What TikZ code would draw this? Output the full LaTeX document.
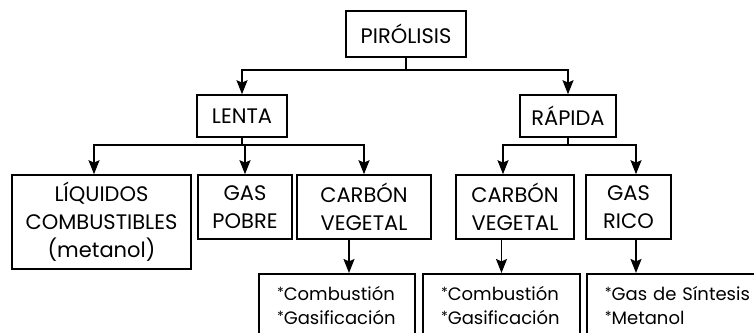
\documentclass[tikz,border=0pt]{standalone}
\usepackage{fontspec}
\setmainfont{Poppins}
\usepackage{tikz}
\usetikzlibrary{positioning,arrows.meta,calc}
\tikzset{
  flow/.style={-{Stealth[length=7pt,width=5.5pt,inset=1.2pt]}, line width=0.8pt, draw=black},
  every node/.style={anchor=center}
}
\newcommand{\itm}{\raisebox{.35ex}{\scriptsize *}}

\begin{document}
\begin{tikzpicture}[
  x=0.5pt, y=-0.5pt,
  font=\fontsize{10.5}{14}\selectfont,
  box/.style={draw, line width=0.8pt, align=center, inner sep=0pt, fill=white},
  leaf/.style={draw, line width=0.8pt, align=left, anchor=north, inner xsep=9pt, inner ysep=0pt, minimum height=32pt, font=\fontsize{9}{12}\selectfont}
]
\useasboundingbox (0,0) rectangle (754,332);
\clip (0,0) rectangle (754,332);
\node[box, minimum width=60pt, minimum height=23pt] (pir) at (406,34) {PIRÓLISIS};
\node[box, minimum width=45pt, minimum height=21pt] (lenta) at (242,116) {LENTA};
\node[box, minimum width=48pt, minimum height=21pt] (rapida) at (568,116) {RÁPIDA};
\node[box, minimum width=89.5pt, minimum height=47pt] (liq) at (101.5,222) {LÍQUIDOS\\COMBUSTIBLES\\(metanol)};
\node[box, minimum width=47pt, minimum height=32pt] (gaspob) at (245,207) {GAS\\POBRE};
\node[box, minimum width=67pt, minimum height=32pt] (carb1) at (364,207) {CARBÓN\\VEGETAL};
\node[box, minimum width=59pt, minimum height=32pt] (carb2) at (515,207) {CARBÓN\\VEGETAL};
\node[box, minimum width=42.5pt, minimum height=32pt] (gasric) at (628.5,207) {GAS\\RICO};
\node[leaf, text width=60pt] (comb1) at (337,273) {\itm Combustión\\\itm Gasificación};
\node[leaf, text width=60.5pt] (comb2) at (501.5,273) {\itm Combustión\\\itm Gasificación};
\node[leaf, anchor=north west, text width=80pt] (sint) at (586,273) {\itm Gas de Síntesis\\\itm Metanol};
% first level
\draw[flow] (pir.south) -- ++(0,12) -| (lenta.north);
\draw[flow] (pir.south) -- ++(0,12) -| (rapida.north);
% lenta
\draw[flow] (lenta.south) -- ++(0,7) -| ([xshift=-3.75pt]liq.north);
\draw[flow] (lenta.south) -- ++(0,7) -| (gaspob.north);
\draw[flow] (lenta.south) -- ++(0,7) -| (carb1.north);
% rapida
\draw[flow] (rapida.south) -- ++(0,7) -| ([xshift=-6pt]carb2.north);
\draw[flow] (rapida.south) -- ++(0,7) -| ([xshift=3.75pt]gasric.north);
% products
\draw[flow] ([xshift=-7.5pt]carb1.south) -- ([xshift=-7.5pt]carb1.south |- comb1.north);
\draw[flow] (comb2.north |- carb2.south) -- (comb2.north);
\draw[flow] ([xshift=3.75pt]gasric.south) -- ([xshift=3.75pt]gasric.south |- sint.north);
\end{tikzpicture}
\end{document}
